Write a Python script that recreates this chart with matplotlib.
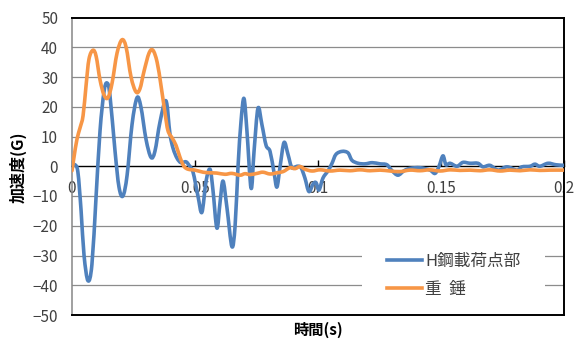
import matplotlib
matplotlib.use("Agg")
import matplotlib.pyplot as plt
from matplotlib.patches import Rectangle, PathPatch
from matplotlib.path import Path
from matplotlib.lines import Line2D

plt.rcParams['font.family'] = ['Noto Sans CJK JP', 'DejaVu Sans']

# H鋼載荷点部 acceleration (time [s], acceleration [G])
t_beam = [0.0000, 0.0012, 0.0024, 0.0037, 0.0049, 0.0065, 0.0081, 0.0098, 0.0114, 0.0130,
          0.0142, 0.0154, 0.0175, 0.0191, 0.0207, 0.0224, 0.0244, 0.0264, 0.0280, 0.0301,
          0.0321, 0.0337, 0.0358, 0.0382, 0.0398, 0.0411, 0.0427, 0.0443, 0.0463, 0.0476,
          0.0492, 0.0512, 0.0528, 0.0545, 0.0561, 0.0573, 0.0589, 0.0602, 0.0614, 0.0630,
          0.0650, 0.0663, 0.0675, 0.0687, 0.0699, 0.0711, 0.0728, 0.0740, 0.0756, 0.0772,
          0.0789, 0.0805, 0.0821, 0.0833, 0.0846, 0.0862, 0.0878, 0.0894, 0.0915, 0.0931,
          0.0947, 0.0963, 0.0980, 0.0992, 0.1004, 0.1020, 0.1041, 0.1057, 0.1073, 0.1098,
          0.1122, 0.1138, 0.1163, 0.1191, 0.1220, 0.1252, 0.1280, 0.1301, 0.1325, 0.1350,
          0.1374, 0.1415, 0.1455, 0.1476, 0.1492, 0.1508, 0.1520, 0.1537, 0.1565, 0.1589,
          0.1618, 0.1650, 0.1671, 0.1699, 0.1732, 0.1768, 0.1809, 0.1829, 0.1862, 0.1882,
          0.1902, 0.1935, 0.1967, 0.2000]
a_beam = [0.0, 0.5, -2.0, -15.0, -30.0, -38.5, -33.0, -10.0, 12.0, 25.0,
          28.0, 24.0, 5.0, -7.0, -10.0, -3.0, 14.0, 23.0, 20.0, 9.0,
          3.0, 5.0, 15.0, 22.0, 11.0, 6.0, 2.7, 1.2, 1.5, 0.3,
          -2.0, -10.0, -15.5, -5.0, -1.0, -8.0, -20.8, -12.0, -5.0, -14.0,
          -27.0, -20.0, 0.0, 15.0, 22.8, 12.0, -7.4, 5.0, 19.5, 14.0,
          7.0, 5.0, -2.0, -7.0, 0.0, 8.0, 4.0, -0.5, 0.0, -0.5,
          -4.0, -8.5, -6.0, -5.5, -8.0, -4.0, -1.5, 1.0, 4.0, 5.0,
          4.5, 2.0, 1.0, 0.8, 1.2, 0.8, 0.5, -1.5, -3.0, -1.5,
          -0.7, -0.5, -1.3, -2.4, 0.0, 3.5, 0.5, 1.0, 0.0, 1.3,
          1.0, 1.0, -0.2, 0.3, -1.3, -0.2, -1.3, -0.2, 0.0, 0.7,
          0.0, 1.0, 0.5, 0.3]

# 重錘 acceleration (time [s], acceleration [G])
t_weight = [0.0000, 0.0008, 0.0020, 0.0033, 0.0045, 0.0057, 0.0069, 0.0085, 0.0098, 0.0114,
            0.0130, 0.0146, 0.0163, 0.0183, 0.0203, 0.0220, 0.0240, 0.0260, 0.0276, 0.0293,
            0.0313, 0.0329, 0.0346, 0.0362, 0.0378, 0.0390, 0.0407, 0.0423, 0.0439, 0.0455,
            0.0472, 0.0500, 0.0533, 0.0561, 0.0589, 0.0622, 0.0650, 0.0683, 0.0703, 0.0724,
            0.0752, 0.0776, 0.0805, 0.0833, 0.0858, 0.0886, 0.0907, 0.0927, 0.0947, 0.0976,
            0.1008, 0.1049, 0.1089, 0.1130, 0.1171, 0.1211, 0.1252, 0.1293, 0.1333, 0.1374,
            0.1415, 0.1455, 0.1496, 0.1537, 0.1577, 0.1618, 0.1659, 0.1699, 0.1740, 0.1780,
            0.1821, 0.1862, 0.1902, 0.1943, 0.2000]
a_weight = [-1.5, 3.0, 9.0, 13.0, 17.0, 27.0, 36.0, 39.0, 37.0, 29.0,
            24.0, 23.0, 28.0, 38.0, 42.5, 40.0, 30.0, 25.0, 26.0, 32.0,
            38.0, 39.0, 35.0, 27.0, 18.0, 12.0, 9.5, 7.0, 3.0, 0.0,
            -1.0, -1.3, -2.0, -2.2, -2.3, -2.7, -2.4, -3.0, -2.5, -2.8,
            -2.4, -2.0, -2.6, -2.2, -1.8, -0.5, -0.8, -0.1, -1.0, -1.6,
            -1.2, -1.6, -1.3, -1.5, -1.2, -1.5, -1.3, -1.6, -1.8, -1.3,
            -1.5, -1.2, -1.6, -1.2, -1.4, -1.3, -1.5, -1.2, -1.6, -1.3,
            -1.5, -1.2, -1.4, -1.3, -1.3]

series_names = ['H鋼載荷点部', '重  錘']
x_ticks = [0, 0.05, 0.1, 0.15, 0.2]
x_tick_labels = ['0', '0.05', '0.1', '0.15', '0.2']
y_ticks = list(range(-50, 51, 10))

BLUE = '#4F81BD'
ORANGE = '#F79646'
TEXT = '#404040'
LW = 2.6


def smooth_path(xs, ys):
    """Spreadsheet-style smoothed line: cubic Bezier segments through every sample."""
    n = len(xs)
    verts = [(xs[0], ys[0])]
    codes = [Path.MOVETO]
    for i in range(n - 1):
        x0, y0 = xs[max(i - 1, 0)], ys[max(i - 1, 0)]
        x1, y1 = xs[i], ys[i]
        x2, y2 = xs[i + 1], ys[i + 1]
        x3, y3 = xs[min(i + 2, n - 1)], ys[min(i + 2, n - 1)]
        c1 = (x1 + (x2 - x0) / 6.0, y1 + (y2 - y0) / 6.0)
        c2 = (x2 - (x3 - x1) / 6.0, y2 - (y3 - y1) / 6.0)
        verts += [c1, c2, (x2, y2)]
        codes += [Path.CURVE4] * 3
    return Path(verts, codes)


fig = plt.figure(figsize=(5.74, 3.43), dpi=100)
ax = fig.add_axes([72 / 574, 1 - 315 / 343, 492 / 574, 297.5 / 343])

ax.set_xlim(0, 0.2)
ax.set_ylim(-50, 50)

# horizontal gridlines
for yv in y_ticks:
    if yv not in (-50, 0, 50):
        ax.axhline(yv, color='#8C8C8C', lw=0.9, zorder=1)

for xs, ys, col in ((t_beam, a_beam, BLUE), (t_weight, a_weight, ORANGE)):
    ax.add_patch(PathPatch(smooth_path(xs, ys), facecolor='none', edgecolor=col,
                           lw=LW, joinstyle='round', capstyle='round', zorder=4))

# plot-area frame
for side in ('top', 'right'):
    ax.spines[side].set_color('black')
    ax.spines[side].set_linewidth(1.4)
ax.spines['left'].set_color('#868686')
ax.spines['left'].set_linewidth(1.1)
ax.plot([0, 0.2], [-50, -50], color='black', lw=1.4, clip_on=False, zorder=5)

# x axis runs through zero
ax.spines['bottom'].set_position(('data', 0))
ax.spines['bottom'].set_color('black')
ax.spines['bottom'].set_linewidth(1.0)
ax.spines['bottom'].set_zorder(3)

ax.set_xticks(x_ticks)
ax.set_xticklabels(x_tick_labels)
ax.set_yticks(y_ticks)
ax.tick_params(axis='x', direction='in', length=4, width=1, color='black',
               pad=10, labelsize=11, labelcolor=TEXT)
ax.tick_params(axis='y', length=0, pad=10, labelsize=11, labelcolor=TEXT)

fig.text(318 / 574, 1 - 330 / 343, '時間(s)', ha='center', va='center',
         fontsize=11, fontweight='bold', color='black')
fig.text(18 / 574, 1 - 167 / 343, '加速度(G)', ha='center', va='center',
         rotation=90, fontsize=11.5, fontweight='bold', color='black')

# legend panel
ax.add_patch(Rectangle(((362 - 72) / 492, (315 - 306) / 297.5), 183 / 492, 66 / 297.5,
                       transform=ax.transAxes, facecolor='white', edgecolor='none',
                       zorder=3))
handles = [Line2D([], [], color=BLUE, lw=LW), Line2D([], [], color=ORANGE, lw=LW)]
ax.legend(handles=handles, labels=series_names, loc='upper left',
          bbox_to_anchor=((387 - 72) / 492, (315 - 253) / 297.5),
          frameon=False, borderpad=0, borderaxespad=0, handlelength=2.1,
          handletextpad=0.2, labelspacing=0.65, fontsize=12,
          labelcolor=TEXT)

fig.savefig('out.png', dpi=100)
